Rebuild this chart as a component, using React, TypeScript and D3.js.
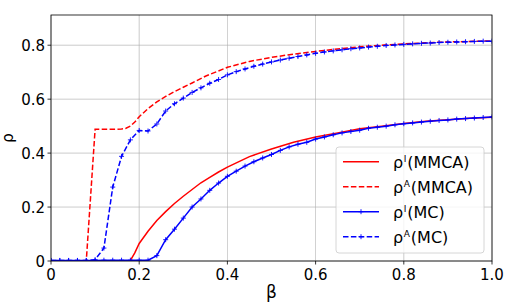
import React from 'react';
import * as d3 from 'd3';

// beta steps for the Monte Carlo runs
const betaMC = d3.range(0, 51).map(i => i / 50);

const rhoI_MC = [
    0.002, 0.002, 0.002, 0.002, 0.002, 0.002, 0.003, 0.003, 0.003, 0.003, 0.003, 0.003,
    0.02, 0.079, 0.118, 0.159, 0.2, 0.23, 0.262, 0.289, 0.314, 0.333, 0.352, 0.368, 0.382,
    0.395, 0.41, 0.423, 0.433, 0.44, 0.452, 0.46, 0.468, 0.475, 0.48, 0.485, 0.492, 0.496,
    0.5, 0.505, 0.509, 0.512, 0.515, 0.518, 0.521, 0.523, 0.526, 0.528, 0.53, 0.532, 0.534
];

const rhoA_MC = [
    0.002, 0.002, 0.002, 0.002, 0.002, 0.005, 0.048, 0.274, 0.388, 0.449, 0.484, 0.482,
    0.508, 0.556, 0.583, 0.604, 0.625, 0.642, 0.659, 0.673, 0.69, 0.702, 0.712, 0.722, 0.73,
    0.738, 0.745, 0.752, 0.758, 0.764, 0.77, 0.775, 0.779, 0.783, 0.787, 0.79, 0.793, 0.796,
    0.799, 0.801, 0.803, 0.805, 0.807, 0.808, 0.81, 0.811, 0.812, 0.813, 0.814, 0.815, 0.815
];

const betaI_MMCA = [0, 0.1, 0.17, 0.18, 0.19, 0.2, 0.22, 0.24, 0.26, 0.28, 0.3, 0.32, 0.34, 0.36, 0.38, 0.4,
    0.45, 0.5, 0.55, 0.6, 0.65, 0.7, 0.75, 0.8, 0.85, 0.9, 0.95, 1.0];
const rhoI_MMCA = [0, 0, 0, 0.002, 0.03, 0.065, 0.11, 0.15, 0.183, 0.213, 0.24, 0.265, 0.29, 0.31, 0.33, 0.348,
    0.387, 0.415, 0.44, 0.46, 0.475, 0.49, 0.5, 0.51, 0.518, 0.524, 0.529, 0.533];

const betaA_MMCA = [0, 0.08, 0.1, 0.12, 0.14, 0.16, 0.17, 0.18, 0.19, 0.2, 0.22, 0.24, 0.26, 0.28, 0.3, 0.32,
    0.35, 0.4, 0.45, 0.5, 0.55, 0.6, 0.65, 0.7, 0.75, 0.8, 0.85, 0.9, 0.95, 1.0];
const rhoA_MMCA = [0, 0, 0.488, 0.488, 0.488, 0.489, 0.492, 0.5, 0.515, 0.535, 0.565, 0.59, 0.61, 0.628, 0.644, 0.66,
    0.685, 0.718, 0.74, 0.755, 0.767, 0.777, 0.786, 0.794, 0.8, 0.805, 0.809, 0.812, 0.814, 0.816];

const xTicks = [0, 0.2, 0.4, 0.6, 0.8, 1.0];
const yTicks = [0, 0.2, 0.4, 0.6, 0.8];

// label = rho + superscript + method
const legendItems = [
    { sup: 'I', method: '(MMCA)', color: '#ff0000', dashed: false, marker: false },
    { sup: 'A', method: '(MMCA)', color: '#ff0000', dashed: true, marker: false },
    { sup: 'I', method: '(MC)', color: '#0000ff', dashed: false, marker: true },
    { sup: 'A', method: '(MC)', color: '#0000ff', dashed: true, marker: true }
];

const W = 513, H = 308;
const M = { left: 51, right: 21, top: 15, bottom: 47 };
const font = 'DejaVu Sans, sans-serif';
const DASH = '5.5,2.4';

export default function App() {
    const x = d3.scaleLinear().domain([0, 1]).range([M.left, W - M.right]);
    const y = d3.scaleLinear().domain([0, 0.912]).range([H - M.bottom, M.top]);
    const line = d3.line<[number, number]>().x(d => x(d[0])).y(d => y(d[1]));

    const zip = (xs: number[], ys: number[]) => xs.map((v, i) => [v, ys[i]] as [number, number]);
    const series = [
        { pts: zip(betaI_MMCA, rhoI_MMCA), color: '#ff0000', dashed: false, marker: false },
        { pts: zip(betaA_MMCA, rhoA_MMCA), color: '#ff0000', dashed: true, marker: false },
        { pts: zip(betaMC, rhoI_MC), color: '#0000ff', dashed: false, marker: true },
        { pts: zip(betaMC, rhoA_MC), color: '#0000ff', dashed: true, marker: true }
    ];

    const plus = (cx: number, cy: number, s: number) => `M${cx - s},${cy}H${cx + s}M${cx},${cy - s}V${cy + s}`;

    const [x0, x1] = x.range();
    const [y0, y1] = y.range();

    const lg = { x: 336, y: 147, w: 148, h: 106 };

    return (
        <svg width={W} height={H} style={{ position: 'absolute', left: 0, top: 0 }} fontFamily={font}>
            <rect width={W} height={H} fill="#fff" />
            <defs>
                <clipPath id="plot">
                    <rect x={x0} y={y1} width={x1 - x0} height={y0 - y1} />
                </clipPath>
            </defs>
            {/* grid */}
            {xTicks.map(t => (
                <line key={'gx' + t} x1={x(t)} x2={x(t)} y1={y0} y2={y1} stroke="#b0b0b0" strokeWidth={0.8} opacity={0.8} />
            ))}
            {yTicks.map(t => (
                <line key={'gy' + t} x1={x0} x2={x1} y1={y(t)} y2={y(t)} stroke="#b0b0b0" strokeWidth={0.8} opacity={0.8} />
            ))}
            {/* data */}
            <g clipPath="url(#plot)">
                {series.map((s, i) => (
                    <g key={i}>
                        <path d={line(s.pts) || ''} fill="none" stroke={s.color} strokeWidth={1.5}
                              strokeDasharray={s.dashed ? DASH : undefined} />
                        {s.marker && (
                            <path d={s.pts.map(p => plus(x(p[0]), y(p[1]), 2.5)).join('')}
                                  stroke={s.color} strokeWidth={0.9} fill="none" />
                        )}
                    </g>
                ))}
            </g>
            {/* frame */}
            <rect x={x0} y={y1} width={x1 - x0} height={y0 - y1} fill="none" stroke="#000" strokeWidth={0.8} />
            {/* ticks */}
            {xTicks.map(t => (
                <g key={'tx' + t}>
                    <line x1={x(t)} x2={x(t)} y1={y0} y2={y0 + 3.5} stroke="#000" strokeWidth={0.8} />
                    <text x={x(t)} y={y0 + 19} fontSize={15} textAnchor="middle">{t === 0 ? '0' : t.toFixed(1)}</text>
                </g>
            ))}
            {yTicks.map(t => (
                <g key={'ty' + t}>
                    <line x1={x0 - 3.5} x2={x0} y1={y(t)} y2={y(t)} stroke="#000" strokeWidth={0.8} />
                    <text x={x0 - 6} y={y(t) + 5.5} fontSize={15} textAnchor="end">{t === 0 ? '0' : t.toFixed(1)}</text>
                </g>
            ))}
            {/* axis labels */}
            <text x={(x0 + x1) / 2} y={298} fontSize={17} textAnchor="middle">β</text>
            <text transform={`translate(13,${(y0 + y1) / 2}) rotate(-90)`} fontSize={15} textAnchor="middle">ρ</text>
            {/* legend */}
            <rect x={lg.x} y={lg.y} width={lg.w} height={lg.h} rx={3} fill="#fff" fillOpacity={0.8}
                  stroke="#cccccc" strokeWidth={0.8} />
            {legendItems.map((it, i) => {
                const ly = 161.7 + i * 25;
                return (
                    <g key={i}>
                        <line x1={343} x2={379} y1={ly} y2={ly} stroke={it.color} strokeWidth={1.5}
                              strokeDasharray={it.dashed ? DASH : undefined} />
                        {it.marker && <path d={plus(361, ly, 2.5)} stroke={it.color} strokeWidth={0.9} />}
                        <text x={393} y={ly + 5.8} fontSize={16}>
                            ρ<tspan fontSize={9} dy={-6} dx={0.5}>{it.sup}</tspan>
                            <tspan dy={6} dx={1}>{it.method}</tspan>
                        </text>
                    </g>
                );
            })}
        </svg>
    );
}
